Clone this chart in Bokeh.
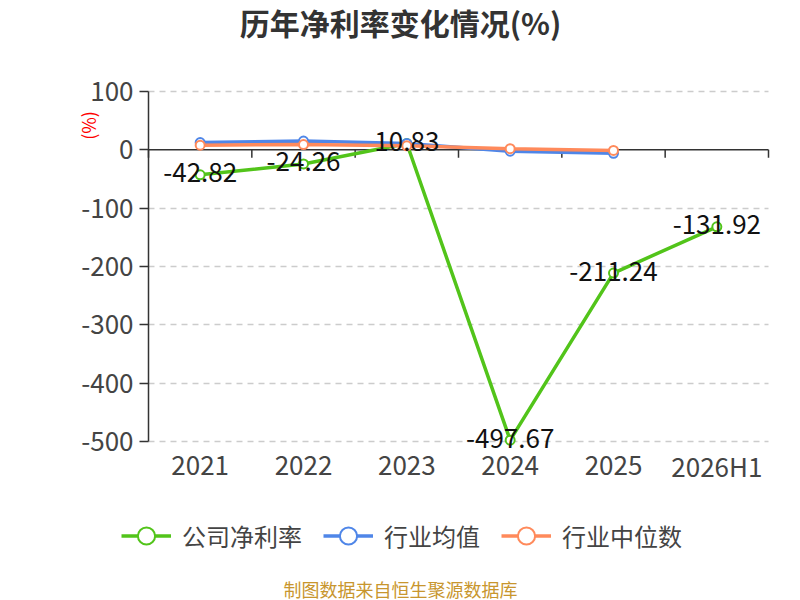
import math
from bokeh.plotting import figure
from bokeh.models import (Range1d, FixedTicker, Legend, LegendItem,
                          Label, ColumnDataSource)
from bokeh.embed import file_html
from bokeh.resources import INLINE

# ---- data ----
categories = ["2021", "2022", "2023", "2024", "2025", "2026H1"]
company_margin = [-42.82, -24.26, 10.83, -497.67, -211.24, -131.92]
industry_avg = [12.5, 15.0, 11.0, -2.3, -6.0]
industry_median = [8.0, 9.0, 7.0, 2.0, -1.0]
y_ticks = [100, 0, -100, -200, -300, -400, -500]
y_tick_labels = ["100", "0", "-100", "-200", "-300", "-400", "-500"]
series_names = ["公司净利率", "行业均值", "行业中位数"]
title_text = "历年净利率变化情况(%)"
unit_text = "(%)"
footer_text = "制图数据来自恒生聚源数据库"

GREEN = "#52c41a"
BLUE = "#4f86e8"
ORANGE = "#ff8a5b"
TXT = "#444444"
AXIS = "#333333"
FONT = "Noto Sans CJK SC"

W, H = 800, 600
FRAME_LEFT = 72              # left border holding the value axis labels
PLOT_L, PLOT_R = 148, 768    # pixel extent of the category area
PLOT_T, PLOT_B = 91, 441     # pixel extent of the value axis

idx = list(range(len(categories)))
n = len(categories)
y_lo, y_hi = min(y_ticks), max(y_ticks)
xpx = (PLOT_R - PLOT_L) / n
ypx = (PLOT_B - PLOT_T) / (y_hi - y_lo)

x_start = -0.5 - (PLOT_L - FRAME_LEFT) / xpx
x_end = n - 0.5 + (W - PLOT_R) / xpx
y_end = y_hi + PLOT_T / ypx
y_start = y_lo - (H - PLOT_B) / ypx

src_company = ColumnDataSource(dict(
    x=idx, y=company_margin, lbl=[f"{v:.2f}" for v in company_margin]))
src_avg = ColumnDataSource(dict(x=idx[:len(industry_avg)], y=industry_avg))
src_med = ColumnDataSource(dict(x=idx[:len(industry_median)], y=industry_median))
src_cat = ColumnDataSource(dict(x=idx, y=[y_lo] * n, lbl=categories))
bticks = [i - 0.5 for i in range(n + 1)]
src_bt = ColumnDataSource(dict(x=bticks, y=[0] * len(bticks)))

p = figure(width=W, height=H, x_axis_location=None,
           x_range=Range1d(x_start, x_end), y_range=Range1d(y_start, y_end),
           output_backend="svg", toolbar_location=None,
           min_border_left=FRAME_LEFT, min_border_right=0,
           min_border_top=0, min_border_bottom=0,
           background_fill_color="white", border_fill_color="white")
p.outline_line_color = None
p.title.visible = False

# value axis, fixed at the left edge of the category area
ya = p.yaxis[0]
ya.fixed_location = -0.5
ya.bounds = (y_lo, y_hi)
ya.ticker = FixedTicker(ticks=y_ticks)
ya.major_label_overrides = {t: s for t, s in zip(y_ticks, y_tick_labels)}
ya.axis_line_color = AXIS
ya.axis_line_width = 1.5
ya.major_tick_line_color = AXIS
ya.major_tick_line_width = 1.5
ya.major_tick_out = 9
ya.major_tick_in = 0
ya.minor_tick_line_color = None
ya.major_label_standoff = 6
ya.major_label_text_font = FONT
ya.major_label_text_font_size = "26px"
ya.major_label_text_color = TXT

# grid
for g in p.xgrid:
    g.visible = False
p.ygrid.ticker = FixedTicker(ticks=[t for t in y_ticks if t != 0])
p.ygrid.grid_line_color = "#cccccc"
p.ygrid.grid_line_width = 1.5
p.ygrid.grid_line_dash = "6 5"
p.ygrid.cross_bounds = (-0.5, n - 0.5)

# category axis at zero: line + boundary ticks, labels under the value range
p.segment(x0=-0.5, y0=0, x1=n - 0.5, y1=0, line_color=AXIS, line_width=1.5)
p.ray("x", "y", source=src_bt, length=8, length_units="screen",
      angle=-math.pi / 2, line_color=AXIS, line_width=1.5)
p.text("x", "y", text="lbl", source=src_cat, text_align="center",
       text_baseline="middle", y_offset=24, text_font_size="26px",
       text_color=TXT, text_font={"value": FONT})

# series
l1 = p.line("x", "y", source=src_company, line_color=GREEN, line_width=3.5)
s1 = p.scatter("x", "y", source=src_company, size=9, fill_color="white",
               line_color=GREEN, line_width=2)
l2 = p.line("x", "y", source=src_avg, line_color=BLUE, line_width=3.5)
s2 = p.scatter("x", "y", source=src_avg, size=9, fill_color="white",
               line_color=BLUE, line_width=2)
l3 = p.line("x", "y", source=src_med, line_color=ORANGE, line_width=3.5)
s3 = p.scatter("x", "y", source=src_med, size=9, fill_color="white",
               line_color=ORANGE, line_width=2)

p.text("x", "y", text="lbl", source=src_company, text_align="center",
       text_baseline="middle", y_offset=-2, text_font_size="26px",
       text_color="#111111", text_font={"value": FONT})

# title, unit label, footer
p.add_layout(Label(x=-0.5, y=y_hi, x_offset=400 - PLOT_L, y_offset=PLOT_T - 21,
                   text=title_text, text_align="center", text_baseline="middle",
                   text_font=FONT, text_font_size="30px",
                   text_font_style="bold", text_color="#333333"))
p.add_layout(Label(x=-0.5, y=y_hi, x_offset=87 - PLOT_L, y_offset=PLOT_T - 125,
                   text=unit_text, angle=math.pi / 2, text_align="center",
                   text_baseline="middle", text_font=FONT,
                   text_font_size="18px", text_color="#ff0000"))
p.add_layout(Label(x=-0.5, y=y_lo, x_offset=400 - PLOT_L, y_offset=PLOT_B - 588,
                   text=footer_text, text_align="center", text_baseline="middle",
                   text_font=FONT, text_font_size="18px",
                   text_color="#c8962e"))

# legend inside the frame
legend = Legend(items=[
    LegendItem(label=series_names[0], renderers=[l1, s1]),
    LegendItem(label=series_names[1], renderers=[l2, s2]),
    LegendItem(label=series_names[2], renderers=[l3, s3]),
], orientation="horizontal", location=(121 - FRAME_LEFT, H - 535 - 21.5),
    glyph_width=50, glyph_height=43, label_standoff=11, spacing=21,
    padding=0, margin=0, border_line_color=None, background_fill_alpha=0,
    label_text_font=FONT, label_text_font_size="24px",
    label_text_color=TXT, label_text_baseline="middle")
p.add_layout(legend, "center")

open("out.html", "w").write(file_html(p, INLINE))
